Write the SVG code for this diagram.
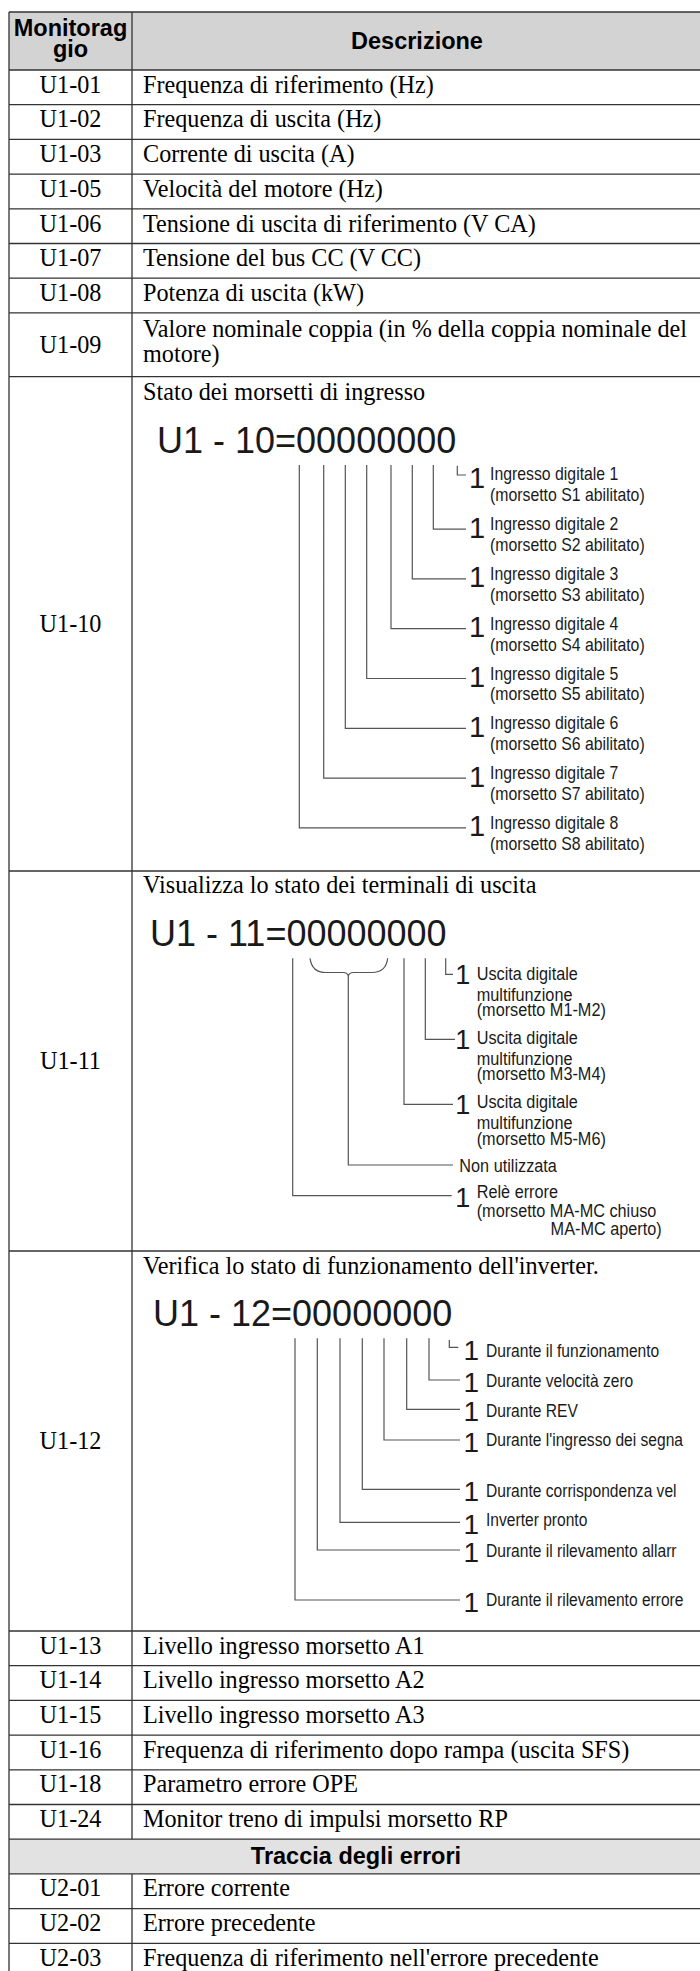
<svg xmlns="http://www.w3.org/2000/svg" width="700" height="1971" viewBox="0 0 700 1971">
<defs>
<style>
.g{stroke:#333;stroke-width:1.3;fill:none}
.s{font-family:"Liberation Serif","Times New Roman",serif;font-size:24.2px;fill:#000}
.c{text-anchor:middle}
.h{font-family:"Liberation Sans",Arial,sans-serif;font-size:23.5px;font-weight:bold;fill:#000;text-anchor:middle}
.big{font-family:"Liberation Sans",Arial,sans-serif;font-size:36px;fill:#1a1a1a}
.one{font-family:"Liberation Sans",Arial,sans-serif;fill:#1a1a1a}
.l{font-family:"Liberation Sans",Arial,sans-serif;font-size:18.5px;fill:#1a1a1a}
.l2{font-family:"Liberation Sans",Arial,sans-serif;font-size:17.5px;fill:#1a1a1a}
.cn{stroke:#555;stroke-width:1.2;fill:none}
</style>
<clipPath id="clip12"><rect x="132" y="1251" width="557" height="380"/></clipPath>
</defs>
<rect x="0" y="0" width="700" height="1971" fill="#fff"/>
<rect x="9" y="12" width="691" height="58" fill="#d3d3d3"/>
<rect x="9" y="1839.2" width="691" height="34.7" fill="#e2e2e2"/>

<g id="grid" class="g">
<path d="M9,12H700M9,70H700M9,104.7H700M9,139.4H700M9,174.1H700M9,208.8H700M9,243.5H700M9,278.2H700M9,312.9H700M9,376.7H700M9,871H700M9,1251H700M9,1631H700M9,1665.7H700M9,1700.4H700M9,1735.1H700M9,1769.8H700M9,1804.5H700M9,1839.2H700M9,1873.9H700M9,1908.6H700M9,1943.3H700"/>
<path d="M9,12V1971M132,12V1839.2M132,1873.9V1971"/>
</g>

<g id="header">
<text class="h" x="70.5" y="35.7">Monitorag</text>
<text class="h" x="70.5" y="56.7">gio</text>
<text class="h" x="417" y="49">Descrizione</text>
</g>

<g id="r-u1-01"><text class="s c" x="70.5" y="92.7">U1-01</text><text class="s" x="143" y="92.7">Frequenza di riferimento (Hz)</text></g>
<g id="r-u1-02"><text class="s c" x="70.5" y="127.4">U1-02</text><text class="s" x="143" y="127.4">Frequenza di uscita (Hz)</text></g>
<g id="r-u1-03"><text class="s c" x="70.5" y="162.1">U1-03</text><text class="s" x="143" y="162.1">Corrente di uscita (A)</text></g>
<g id="r-u1-05"><text class="s c" x="70.5" y="196.8">U1-05</text><text class="s" x="143" y="196.8">Velocità del motore (Hz)</text></g>
<g id="r-u1-06"><text class="s c" x="70.5" y="231.5">U1-06</text><text class="s" x="143" y="231.5">Tensione di uscita di riferimento (V CA)</text></g>
<g id="r-u1-07"><text class="s c" x="70.5" y="266.2">U1-07</text><text class="s" x="143" y="266.2">Tensione del bus CC (V CC)</text></g>
<g id="r-u1-08"><text class="s c" x="70.5" y="300.9">U1-08</text><text class="s" x="143" y="300.9">Potenza di uscita (kW)</text></g>
<g id="r-u1-09"><text class="s c" x="70.5" y="353">U1-09</text><text class="s" x="143" y="336.5">Valore nominale coppia (in % della coppia nominale del</text><text class="s" x="143" y="361.5">motore)</text></g>

<g id="r-u1-10">
<text class="s c" x="70.5" y="632">U1-10</text>
<text class="s" x="143" y="400">Stato dei morsetti di ingresso</text>
<text class="big" x="157" y="453.3">U1 - 10=00000000</text>
<g class="one" font-size="29">
<text x="469" y="487.8">1</text><text x="469" y="537.6">1</text><text x="469" y="587.4">1</text><text x="469" y="637.2">1</text>
<text x="469" y="687">1</text><text x="469" y="736.8">1</text><text x="469" y="786.6">1</text><text x="469" y="836.4">1</text>
</g>
<text class="l" transform="translate(490,480.3) scale(0.855,1)"><tspan x="0" y="0">Ingresso digitale 1</tspan><tspan x="0" y="21">(morsetto S1 abilitato)</tspan></text>
<text class="l" transform="translate(490,530.1) scale(0.855,1)"><tspan x="0" y="0">Ingresso digitale 2</tspan><tspan x="0" y="21">(morsetto S2 abilitato)</tspan></text>
<text class="l" transform="translate(490,579.9) scale(0.855,1)"><tspan x="0" y="0">Ingresso digitale 3</tspan><tspan x="0" y="21">(morsetto S3 abilitato)</tspan></text>
<text class="l" transform="translate(490,629.7) scale(0.855,1)"><tspan x="0" y="0">Ingresso digitale 4</tspan><tspan x="0" y="21">(morsetto S4 abilitato)</tspan></text>
<text class="l" transform="translate(490,679.5) scale(0.855,1)"><tspan x="0" y="0">Ingresso digitale 5</tspan><tspan x="0" y="21">(morsetto S5 abilitato)</tspan></text>
<text class="l" transform="translate(490,729.3) scale(0.855,1)"><tspan x="0" y="0">Ingresso digitale 6</tspan><tspan x="0" y="21">(morsetto S6 abilitato)</tspan></text>
<text class="l" transform="translate(490,779.1) scale(0.855,1)"><tspan x="0" y="0">Ingresso digitale 7</tspan><tspan x="0" y="21">(morsetto S7 abilitato)</tspan></text>
<text class="l" transform="translate(490,828.9) scale(0.855,1)"><tspan x="0" y="0">Ingresso digitale 8</tspan><tspan x="0" y="21">(morsetto S8 abilitato)</tspan></text>
</g>

<g id="r-u1-11">
<text class="s c" x="70.5" y="1069">U1-11</text>
<text class="s" x="143" y="893">Visualizza lo stato dei terminali di uscita</text>
<text class="big" x="150" y="945.7">U1 - 11=00000000</text>
<g class="one" font-size="27">
<text x="455.3" y="984">1</text><text x="455.3" y="1049">1</text><text x="455.3" y="1114.3">1</text><text x="455.3" y="1206.7">1</text>
</g>
<text class="l2" transform="translate(476.7,980) scale(0.93,1)"><tspan x="0" y="0">Uscita digitale</tspan><tspan x="0" y="21">multifunzione</tspan><tspan x="0" y="36">(morsetto M1-M2)</tspan></text>
<text class="l2" transform="translate(476.7,1044.3) scale(0.93,1)"><tspan x="0" y="0">Uscita digitale</tspan><tspan x="0" y="21">multifunzione</tspan><tspan x="0" y="36">(morsetto M3-M4)</tspan></text>
<text class="l2" transform="translate(476.7,1107.7) scale(0.93,1)"><tspan x="0" y="0">Uscita digitale</tspan><tspan x="0" y="21">multifunzione</tspan><tspan x="0" y="37">(morsetto M5-M6)</tspan></text>
<text class="l2" transform="translate(459.3,1171.7) scale(0.93,1)">Non utilizzata</text>
<text class="l2" transform="translate(476.7,1198.3) scale(0.93,1)"><tspan x="0" y="0">Relè errore</tspan><tspan x="0" y="18.4">(morsetto MA-MC chiuso</tspan></text>
<text class="l2" text-anchor="end" transform="translate(661.7,1235) scale(0.93,1)">MA-MC aperto)</text>
</g>

<g id="r-u1-12">
<text class="s c" x="70.5" y="1449">U1-12</text>
<text class="s" x="143" y="1273.5">Verifica lo stato di funzionamento dell'inverter.</text>
<text class="big" x="153" y="1326">U1 - 12=00000000</text>
<g class="one" font-size="28">
<text x="463.6" y="1360">1</text><text x="463.6" y="1391.7">1</text><text x="463.6" y="1421">1</text><text x="463.6" y="1451.7">1</text>
<text x="463.6" y="1501">1</text><text x="463.6" y="1534">1</text><text x="463.6" y="1561.7">1</text><text x="463.6" y="1611.7">1</text>
</g>
<g clip-path="url(#clip12)">
<text class="l" transform="translate(486,1357.3) scale(0.843,1)">Durante il funzionamento</text>
<text class="l" transform="translate(486,1386.7) scale(0.843,1)">Durante velocità zero</text>
<text class="l" transform="translate(486,1416.7) scale(0.843,1)">Durante REV</text>
<text class="l" transform="translate(486,1446) scale(0.843,1)">Durante l'ingresso dei segna</text>
<text class="l" transform="translate(486,1496.7) scale(0.843,1)">Durante corrispondenza vel</text>
<text class="l" transform="translate(486,1526) scale(0.843,1)">Inverter pronto</text>
<text class="l" transform="translate(486,1556.7) scale(0.843,1)">Durante il rilevamento allarr</text>
<text class="l" transform="translate(486,1606) scale(0.843,1)">Durante il rilevamento errore</text>
</g>
</g>

<g id="r-u1-13"><text class="s c" x="70.5" y="1653.5">U1-13</text><text class="s" x="143" y="1653.5">Livello ingresso morsetto A1</text></g>
<g id="r-u1-14"><text class="s c" x="70.5" y="1688.2">U1-14</text><text class="s" x="143" y="1688.2">Livello ingresso morsetto A2</text></g>
<g id="r-u1-15"><text class="s c" x="70.5" y="1722.9">U1-15</text><text class="s" x="143" y="1722.9">Livello ingresso morsetto A3</text></g>
<g id="r-u1-16"><text class="s c" x="70.5" y="1757.6">U1-16</text><text class="s" x="143" y="1757.6">Frequenza di riferimento dopo rampa (uscita SFS)</text></g>
<g id="r-u1-18"><text class="s c" x="70.5" y="1792.3">U1-18</text><text class="s" x="143" y="1792.3">Parametro errore OPE</text></g>
<g id="r-u1-24"><text class="s c" x="70.5" y="1827">U1-24</text><text class="s" x="143" y="1827">Monitor treno di impulsi morsetto RP</text></g>
<g id="r-traccia"><text class="h" x="356" y="1864">Traccia degli errori</text></g>
<g id="r-u2-01"><text class="s c" x="70.5" y="1896.4">U2-01</text><text class="s" x="143" y="1896.4">Errore corrente</text></g>
<g id="r-u2-02"><text class="s c" x="70.5" y="1931.1">U2-02</text><text class="s" x="143" y="1931.1">Errore precedente</text></g>
<g id="r-u2-03"><text class="s c" x="70.5" y="1965.8">U2-03</text><text class="s" x="143" y="1965.8">Frequenza di riferimento nell'errore precedente</text></g>

<g id="connectors" class="cn">
<path d="M457.3,465.7V475H466"/>
<path d="M433.3,465V529.1H466M412.3,465V578.9H466M391,465V628.7H466M366.7,465V678.5H466M345.3,465V728.3H466M323.7,465V778.1H466M299.3,465V827.9H466"/>
<path d="M445.7,958.3V974.3H453"/>
<path d="M425.3,958.3V1039.3H455M404,958.3V1104.3H453M292.7,958.3V1195.7H451.7"/>
<path d="M310,958.3Q312,972.5 326,972.5L343,972.5Q347.5,972.5 348.3,976Q349.1,972.5 353.6,972.5L372,972.5Q386,972.5 387.7,958.3"/>
<path d="M348.3,976V1165H453"/>
<path d="M449.3,1340V1347.3H458.3"/>
<path d="M429,1338.3V1380H460M406.7,1338.3V1409.3H460M384,1338.3V1440H460M362.3,1338.3V1489.3H460M340,1338.3V1522.3H460M317.3,1338.3V1550H460M295,1338.3V1600H460"/>
</g>
</svg>
